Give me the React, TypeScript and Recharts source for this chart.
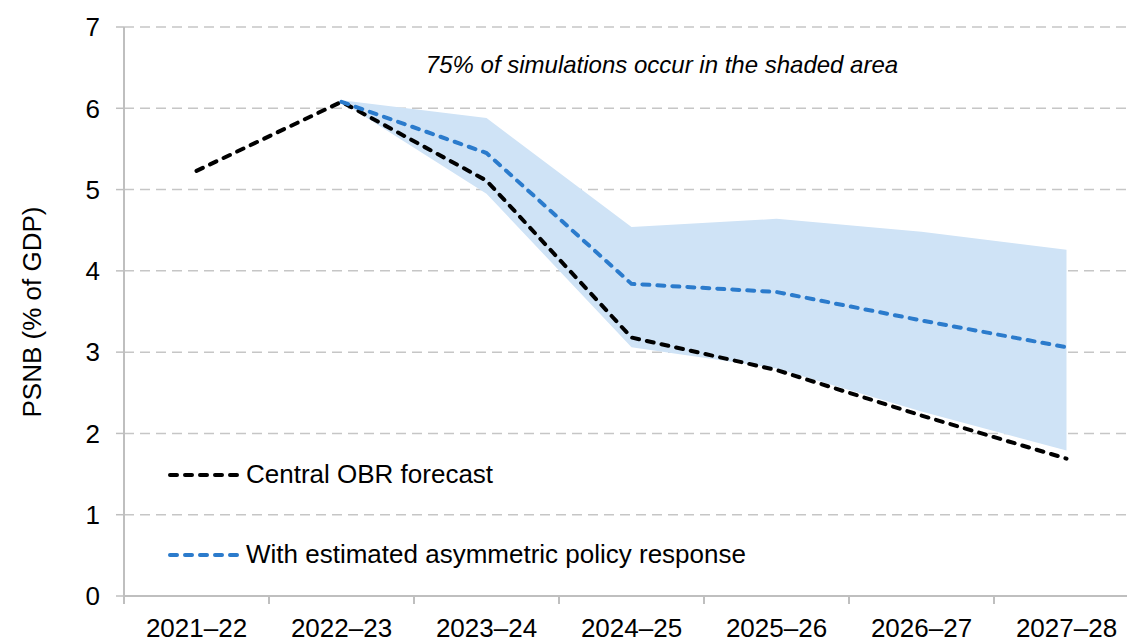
import React from 'react';
import { ComposedChart, Line, Area, XAxis, YAxis, CartesianGrid } from 'recharts';

const categories = ['2021–22', '2022–23', '2023–24', '2024–25', '2025–26', '2026–27', '2027–28'];
const centralOBR = [5.23, 6.08, 5.11, 3.18, 2.78, 2.22, 1.69];
const asymmetric = [null, 6.08, 5.45, 3.84, 3.74, 3.39, 3.06];
const bandLow = [null, 6.08, 4.95, 3.06, 2.8, 2.27, 1.79];
const bandHigh = [null, 6.1, 5.88, 4.54, 4.64, 4.48, 4.26];
const yTicks = [0, 1, 2, 3, 4, 5, 6, 7];

const data = categories.map((c, i) => ({
  cat: c,
  central: centralOBR[i],
  asym: asymmetric[i],
  band: bandLow[i] != null && bandHigh[i] != null ? [bandLow[i], bandHigh[i]] : null,
}));

const FONT = '"Liberation Sans", Arial, sans-serif';
const CHART_W = 1160;
const CHART_H = 639;
const MARGIN = { top: 27, right: 21, left: 0, bottom: 0 };
const Y_W = 124;
const X_H = 43;
const PLOT_W = CHART_W - MARGIN.left - MARGIN.right - Y_W;
const BAND = PLOT_W / categories.length;
const BLUE = '#2B7BCC';
const GREY = '#BFBFBF';

const XTick = (props: any) => {
  const { x, y, payload } = props;
  const bx = x - BAND / 2;
  return (
    <g>
      <line x1={bx} y1={y} x2={bx} y2={y + 8} stroke={GREY} strokeWidth={2} />
      <line x1={bx + BAND} y1={y} x2={bx + BAND} y2={y + 8} stroke={GREY} strokeWidth={2} />
      <text x={x} y={y + 41} textAnchor="middle" fill="#000" fontSize={26} fontFamily={FONT}>
        {payload.value}
      </text>
    </g>
  );
};

export default function App() {
  return (
    <div style={{ position: 'fixed', left: 0, top: 0, width: 1127, height: 639, overflow: 'hidden', background: '#fff' }}>
      <ComposedChart width={CHART_W} height={CHART_H} data={data} margin={MARGIN}>
        <CartesianGrid vertical={false} stroke="#C6C6C6" strokeWidth={1.5} strokeDasharray="10 6" />
        <XAxis
          dataKey="cat"
          height={X_H}
          padding={{ left: BAND / 2, right: BAND / 2 }}
          axisLine={{ stroke: GREY, strokeWidth: 2 }}
          tickLine={false}
          tickSize={0}
          tickMargin={0}
          interval={0}
          tick={<XTick />}
        />
        <YAxis
          width={Y_W}
          domain={[0, 7]}
          ticks={yTicks}
          interval={0}
          axisLine={{ stroke: GREY, strokeWidth: 2 }}
          tickLine={{ stroke: GREY, strokeWidth: 1.5 }}
          tickSize={8}
          tickMargin={16}
          tick={{ fill: '#000', fontSize: 26, fontFamily: FONT }}
        />
        <Area
          dataKey="band"
          stroke="none"
          fill="#CFE3F6"
          fillOpacity={1}
          isAnimationActive={false}
          dot={false}
          activeDot={false}
        />
        <Line
          dataKey="central"
          stroke="#000"
          strokeWidth={4}
          strokeDasharray="7 8"
          strokeLinecap="round"
          dot={false}
          activeDot={false}
          isAnimationActive={false}
        />
        <Line
          dataKey="asym"
          stroke={BLUE}
          strokeWidth={4}
          strokeDasharray="7 8"
          strokeLinecap="round"
          dot={false}
          activeDot={false}
          isAnimationActive={false}
        />
      </ComposedChart>
      <svg width={1127} height={639} style={{ position: 'absolute', left: 0, top: 0, pointerEvents: 'none' }}>
        <text x={32} y={312} transform="rotate(-90 32 312)" textAnchor="middle" dominantBaseline="central" fontSize={26} fontFamily={FONT} fill="#000">
          PSNB (% of GDP)
        </text>
        <text x={662} y={73} textAnchor="middle" fontSize={24} fontStyle="italic" fontFamily={FONT} fill="#000">
          75% of simulations occur in the shaded area
        </text>
        <line x1={170} y1={475} x2={238} y2={475} stroke="#000" strokeWidth={4} strokeDasharray="7 8" strokeLinecap="round" />
        <text x={246} y={483} fontSize={26} fontFamily={FONT} fill="#000">Central OBR forecast</text>
        <line x1={170} y1={555} x2={238} y2={555} stroke={BLUE} strokeWidth={4} strokeDasharray="7 8" strokeLinecap="round" />
        <text x={246} y={563} fontSize={26} fontFamily={FONT} fill="#000">With estimated asymmetric policy response</text>
      </svg>
    </div>
  );
}
